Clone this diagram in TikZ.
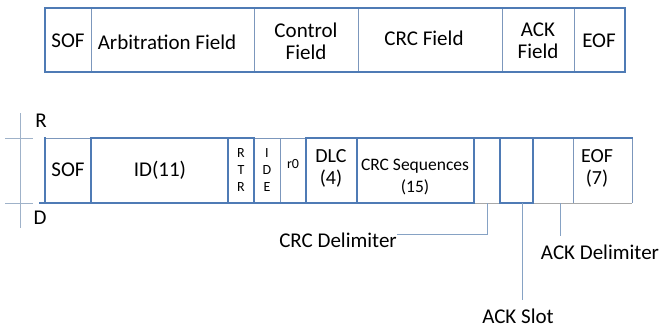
\documentclass[tikz,border=0pt]{standalone}
\usepackage{fontspec}
\setmainfont{Carlito}
\definecolor{sigblue}{HTML}{4F7BB5}
\definecolor{thinblue}{HTML}{7C97BC}
\definecolor{axisgray}{HTML}{9FB2C9}
\definecolor{recgray}{HTML}{A8A8A8}
\definecolor{leader}{HTML}{86A2C4}
\begin{document}
\begin{tikzpicture}[x=1pt,y=-1pt,
  sig/.style={draw=sigblue,line width=2.6pt,line cap=rect},
  fieldline/.style={draw=thinblue,line width=0.8pt},
  rec/.style={draw=recgray,line width=1pt},
  axis/.style={draw=axisgray,line width=1pt},
  lead/.style={draw=leader,line width=0.9pt},
  lbl/.style={font=\fontsize{21}{22}\selectfont,inner sep=0pt,align=center},
  mid/.style={font=\fontsize{20}{22}\selectfont,inner sep=0pt,align=center},
  small/.style={font=\fontsize{17.5}{22}\selectfont,inner sep=0pt,align=center},
  tiny/.style={font=\fontsize{14}{15}\selectfont,inner sep=0pt,align=center}]
\useasboundingbox (0,0) rectangle (661,329);

% ---------- frame overview ----------
\foreach \x in {91,254,358,502,574} \draw[fieldline] (\x,8) -- (\x,72);
\draw[draw=sigblue,line width=2pt] (45,8) rectangle (625,72);
\node[lbl] (tsof) at (68,41) {SOF};
\node[lbl] (tarb) at (167,42) {Arbitration Field};
\node[lbl] (tctl) at (306,41) {Control\\[0pt]Field};
\node[lbl] (tcrc) at (424,38) {CRC Field};
\node[lbl] (tack) at (538,41) {ACK\\[0pt]Field};
\node[lbl] (teof) at (599,41) {EOF};

% ---------- bus levels ----------
\draw[axis] (20,113) -- (20,228);
\draw[axis] (5,138) -- (33,138);
\draw[axis] (5,203) -- (33,203);
\node[lbl] (lr) at (41,121) {R};
\node[lbl] (ld) at (40,218) {D};

% ---------- bit fields ----------
% recessive bottoms and thin dividers
\draw[rec] (228,203) -- (254,203);
\draw[rec] (474,203) -- (500,203);
\draw[rec] (533,203) -- (632,203);
\draw[fieldline] (45,138) -- (91,138);
\draw[fieldline] (254,138) -- (306,138);
\draw[fieldline] (280,138) -- (280,203);
\draw[fieldline] (573,138) -- (573,203);
\draw[fieldline] (632,138) -- (632,203);
% signal outline
\draw[sig] (40,203) -- (306,203);
\draw[sig] (45,138) -- (45,203);
\draw[sig] (91,203) -- (91,138) -- (254,138) -- (254,203);
\draw[sig] (228,138) -- (228,203);
\draw[sig] (306,203) rectangle (474,138);
\draw[sig] (357,138) -- (357,203);
\draw[sig] (474,138) -- (632,138);
\draw[sig] (500,138) rectangle (533,203);

\node[lbl] (bsof) at (68,170) {SOF};
\node[lbl] (bid) at (160,170) {ID(11)};
\node[tiny] (brtr) at (241,170) {R\\[2pt]T\\[2pt]R};
\node[tiny] (bide) at (267,170) {I\\[2pt]D\\[2pt]E};
\node[tiny] (br0) at (293,164) {r0};
\node[mid] (bdlc) at (331,168) {DLC\\(4)};
\node[small] (bcrc) at (415,177) {CRC Sequences\\(15)};
\node[mid] (beof) at (597,168) {EOF\\(7)};

% ---------- labels of single bits ----------
\coordinate (crcd) at (487,203);
\coordinate (ackd) at (560,203);
\coordinate (acks) at (522,203);
\node[lbl,anchor=east] (lcrcd) at (397,240) {CRC Delimiter};
\node[lbl] (lackd) at (600,252) {ACK Delimiter};
\node[lbl] (lacks) at (518,316) {ACK Slot};
\draw[lead] (crcd) -- (487,234) -- (lcrcd.east |- 0,234);
\draw[lead] (ackd) -- (560,236);
\draw[lead] (acks) -- (522,300);
\end{tikzpicture}
\end{document}
